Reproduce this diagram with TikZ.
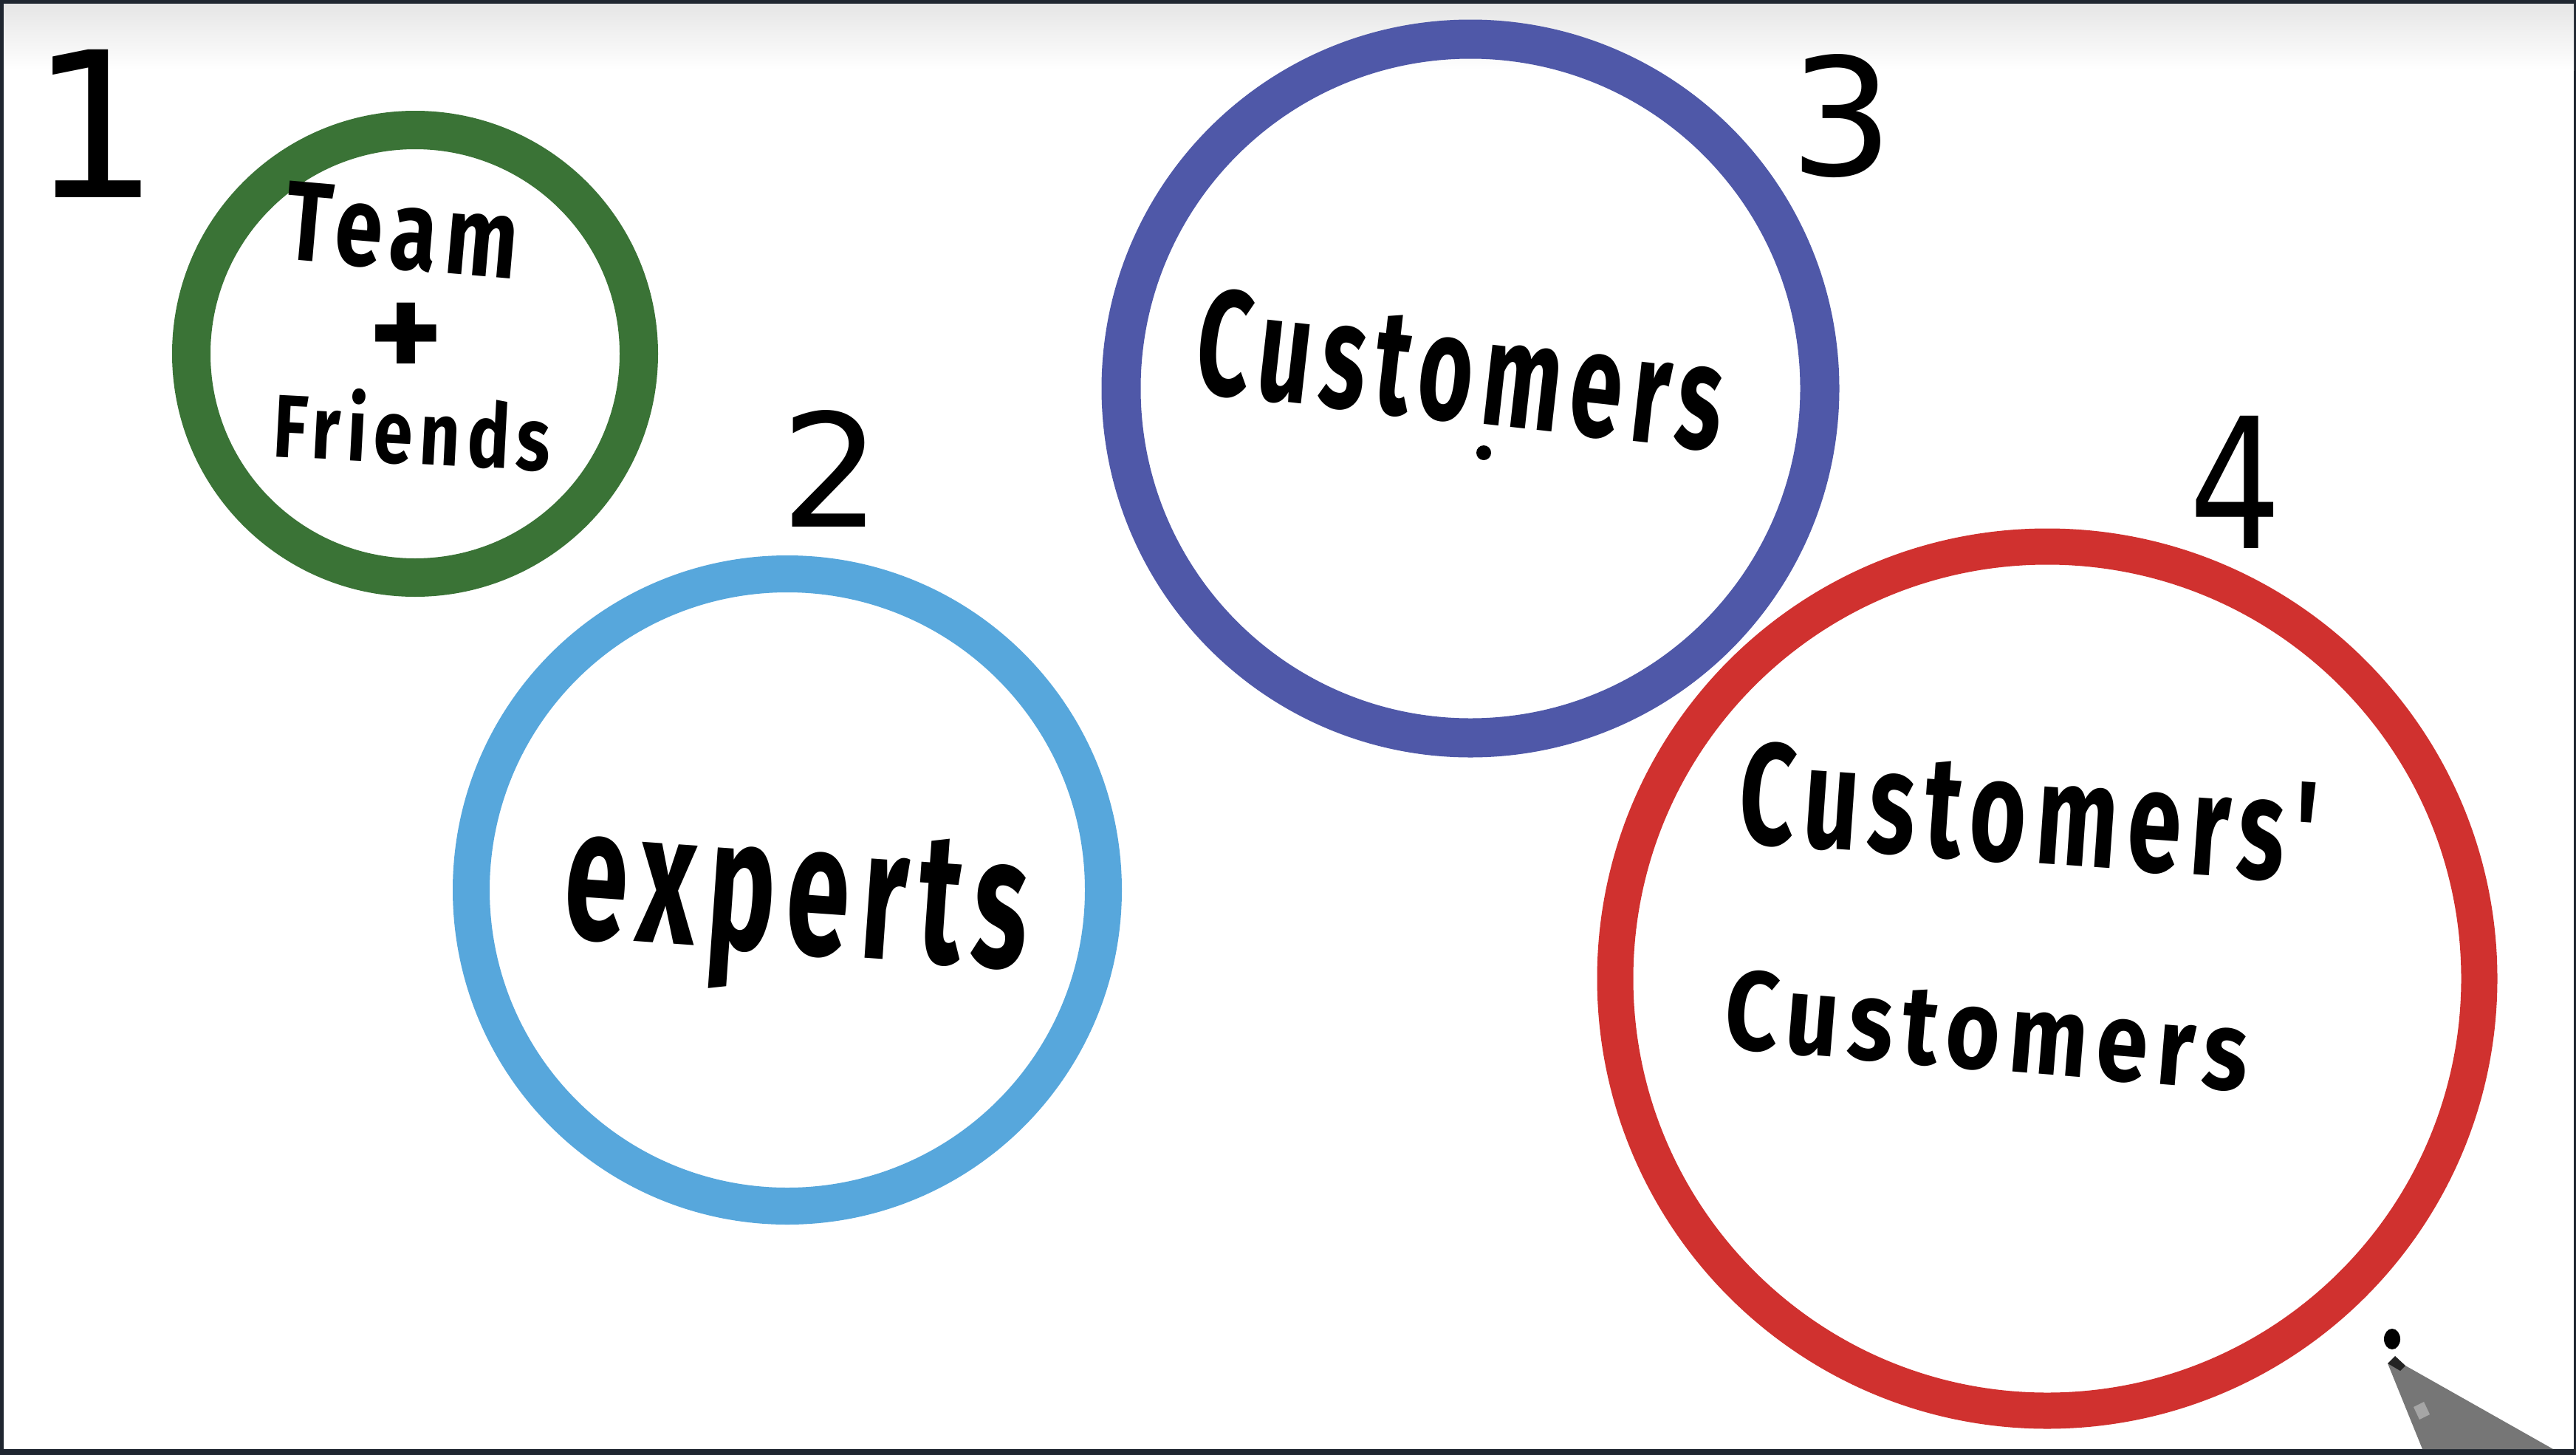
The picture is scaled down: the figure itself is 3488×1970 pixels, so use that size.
\documentclass[tikz,border=0pt]{standalone}
\usepackage{fontspec}
\usepackage{graphicx}
\newfontfamily\handfont{Fira Sans}[LetterSpace=10]
\newfontfamily\numfont{DejaVu Sans}
\definecolor{framecol}{HTML}{1F2630}
\definecolor{ringgreen}{HTML}{3A7336}
\definecolor{ringsky}{HTML}{57A7DC}
\definecolor{ringnavy}{HTML}{4F58A8}
\definecolor{ringred}{HTML}{D0312F}
\definecolor{pengray}{HTML}{767676}
\newcommand{\fitword}[3]{\resizebox{#1pt}{#2pt}{\handfont\bfseries #3}}
\begin{document}
\begin{tikzpicture}[x=1pt,y=-1pt,
  ring/.style={circle,draw,inner sep=0pt,outer sep=0pt},
  word/.style={inner sep=0pt,outer sep=0pt,anchor=base,text=black},
  numlabel/.style={inner sep=0pt,outer sep=0pt,anchor=base,text=black,font=\numfont}]
\useasboundingbox (0,0) rectangle (3488,1970);
% frame and board
\fill[framecol] (0,0) rectangle (3488,1970);
\fill[white] (5,5) rectangle (3485,1962);
\shade[top color=black!10,bottom color=white] (5,5) rectangle (3485,95);
% rings
\node[ring,draw=ringgreen,line width=52pt,minimum size=606pt] (green) at (562,479) {};
\node[ring,draw=ringsky,line width=50pt,minimum size=856pt] (sky) at (1066,1205) {};
\node[ring,draw=ringnavy,line width=53pt,minimum size=946pt] (navy) at (1991,526) {};
\node[ring,draw=ringred,line width=49pt,minimum size=1170pt] (red) at (2772,1325) {};
% numbers
\node[numlabel] (n1) at (129,267) {\resizebox{!}{200pt}{1}};
\node[numlabel] (n2) at (1125,713) {\resizebox{!}{158pt}{2}};
\node[numlabel] (n3) at (2494,237) {\resizebox{!}{164pt}{3}};
\node[numlabel] (n4) at (3027,742) {\resizebox{125pt}{179pt}{4}};
% words
\node[word,rotate=-5] (team) at (540,364) {\fitword{316}{106}{Team}};
\node[inner sep=0pt,text=black,font=\handfont\bfseries\fontsize{190pt}{190pt}\selectfont] (plus) at (550,462) {+};
\node[word,rotate=-3] (friends) at (556,628) {\fitword{376}{98}{Friends}};
\node[word,rotate=-4] (experts) at (1074,1290) {\fitword{628}{168}{experts}};
\node[word,rotate=-6.4] (cust) at (1970,570) {\fitword{716}{144}{Customers}};
\node[word,rotate=-4] (custA) at (2742,1168) {\fitword{782}{139}{Customers'}};
\node[word,rotate=-4.7] (custB) at (2686,1448) {\fitword{710}{108}{Customers}};
% stray pen marks
\fill[black] (2009,613) circle (10);
\fill[black] (3239,1813) ellipse (11 and 14);
% pen
\fill[pengray] (3233,1846) -- (3257,1849) -- (3457,1962) -- (3280,1962) -- cycle;
\fill[black!70!pengray] (3233,1846) -- (3243,1836) -- (3257,1849) -- (3250,1856) -- cycle;
\fill[white,opacity=0.35] (3268,1905) -- (3282,1898) -- (3290,1915) -- (3276,1922) -- cycle;
\end{tikzpicture}
\end{document}
